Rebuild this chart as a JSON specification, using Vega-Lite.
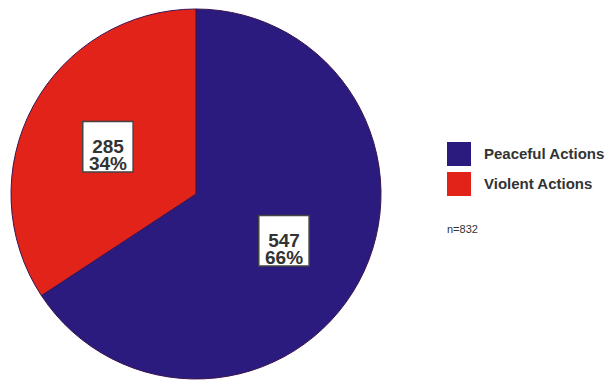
{
  "$schema": "https://vega.github.io/schema/vega-lite/v6.json",
  "width": 392,
  "height": 388,
  "padding": 0,
  "background": "white",
  "config": {"view": {"stroke": null}},
  "data": {"values": [
    {"category": "Peaceful Actions", "count": 547, "label": "547\n66%"},
    {"category": "Violent Actions", "count": 285, "label": "285\n34%"}
  ]},
  "encoding": {
    "theta": {"field": "count", "type": "quantitative", "stack": true},
    "order": {"field": "count", "type": "quantitative", "sort": "descending"}
  },
  "layer": [
    {
      "mark": {"type": "arc", "outerRadius": 185, "stroke": "#3a1550", "strokeWidth": 1},
      "encoding": {
        "color": {
          "field": "category", "type": "nominal",
          "scale": {"domain": ["Peaceful Actions", "Violent Actions"], "range": ["#2b1b7e", "#e2231a"]},
          "legend": {
            "orient": "none", "legendX": 447, "legendY": 142, "padding": 0,
            "title": "n=832", "titleOrient": "bottom", "titleAnchor": "start", "titlePadding": 28,
            "titleFontSize": 11, "titleFontWeight": "normal", "titleColor": "#333", "titleFont": "Liberation Sans",
            "labelFontSize": 15, "labelFontWeight": "bold", "labelColor": "#333", "labelFont": "Liberation Sans",
            "symbolType": "square", "symbolSize": 576, "symbolStrokeWidth": 0, "symbolOpacity": 1,
            "rowPadding": 6, "labelOffset": 13
          }
        }
      }
    },
    {
      "mark": {"type": "text", "text": "■", "font": "DejaVu Sans", "fontSize": 66, "dy": -3, "fill": "white", "stroke": "#444", "strokeWidth": 1.5, "baseline": "middle", "align": "center"},
      "encoding": {
        "radius": {"value": 100}
      }
    },
    {
      "mark": {"type": "text", "lineBreak": "\n", "font": "Liberation Sans", "fontWeight": "bold", "fontSize": 19, "lineHeight": 17, "fill": "#333", "baseline": "middle", "align": "center"},
      "encoding": {
        "radius": {"value": 100},
        "text": {"field": "label"}
      }
    }
  ]
}
